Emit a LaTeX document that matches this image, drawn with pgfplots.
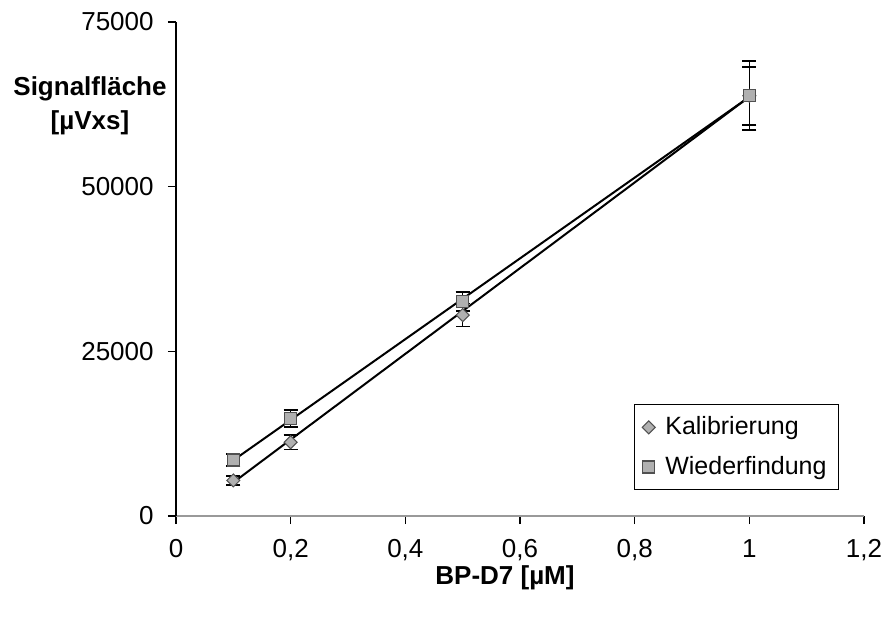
\documentclass[border=0pt]{standalone}
\usepackage{fontspec}
\setmainfont{Liberation Sans}
\usepackage{pgfplots}
\pgfplotsset{compat=1.18}
\definecolor{mkfill}{HTML}{B0B0B0}
\definecolor{mkdraw}{HTML}{505050}
\begin{document}
\fontsize{12}{14}\selectfont
\begin{tikzpicture}
\useasboundingbox (-88pt,-51pt) rectangle (353pt,258pt);
\begin{axis}[
  scale only axis,
  width=344pt, height=247pt,
  at={(0,0)}, anchor=south west,
  xmin=0, xmax=1.2, ymin=0, ymax=75000,
  axis x line*=bottom, axis y line*=left,
  axis line style={line width=0.6pt},
  x axis line style={draw=gray!80, line width=1pt},
  xtick={0,0.2,0.4,0.6,0.8,1,1.2},
  xticklabels={0,{0,2},{0,4},{0,6},{0,8},1,{1,2}},
  ytick={0,25000,50000,75000},
  yticklabels={0,25000,50000,75000},
  scaled y ticks=false,
  tick align=outside,
  major tick length=4pt,
  tick style={black, line width=0.6pt},
  /pgf/number format/assume math mode=true,
  xticklabel style={font=\fontsize{13}{15}\selectfont, yshift=-3.5pt},
  yticklabel style={font=\fontsize{13}{15}\selectfont, xshift=-3pt},
  legend style={at={(0.9637,0.2267)}, anchor=north east, draw=black, line width=0.5pt,
    font=\fontsize{12.5}{15}\selectfont, row sep=5pt, inner xsep=4pt, inner ysep=4pt},
  legend cell align=left,
  clip=false,
]
\addplot[only marks, mark=square*, mark size=2.3pt,
  mark options={rotate=45, fill=mkfill, draw=mkdraw, line width=0.5pt},
  error bars/.cd, y dir=both, y explicit,
  error mark options={rotate=90, mark size=3.5pt, black, line width=0.8pt},
  error bar style={black, line width=0.8pt}]
  coordinates {
  (0.1,5400) +- (0,650)
  (0.2,11200) +- (0,1100)
  (0.5,30500) +- (0,1750)
  (1,63800) +- (0,4400)
  };
\addlegendentry{\hspace{3pt}Kalibrierung}
\addplot[only marks, mark=square*, mark size=3pt,
  mark options={fill=mkfill, draw=mkdraw, line width=0.6pt},
  error bars/.cd, y dir=both, y explicit,
  error mark options={rotate=90, mark size=3.5pt, black, line width=0.8pt},
  error bar style={black, line width=0.8pt}]
  coordinates {
  (0.1,8500) +- (0,950)
  (0.2,14800) +- (0,1300)
  (0.5,32550) +- (0,1450)
  (1,63800) +- (0,5240)
  };
\addlegendentry{\hspace{3pt}Wiederfindung}
\addplot[black, line width=1pt, forget plot] coordinates {(0.1,5100) (1,63650)};
\addplot[black, line width=1pt, forget plot] coordinates {(0.1,8460) (1,63630)};
\end{axis}
\node[font=\bfseries\fontsize{13}{15}\selectfont, align=center, inner sep=0pt] at (-43pt,205pt) {Signalfläche\\[2pt][µVxs]};
\node[font=\bfseries\fontsize{13}{15}\selectfont, inner sep=0pt] at (164.5pt,-31pt) {BP-D7 [µM]};
\end{tikzpicture}
\end{document}
